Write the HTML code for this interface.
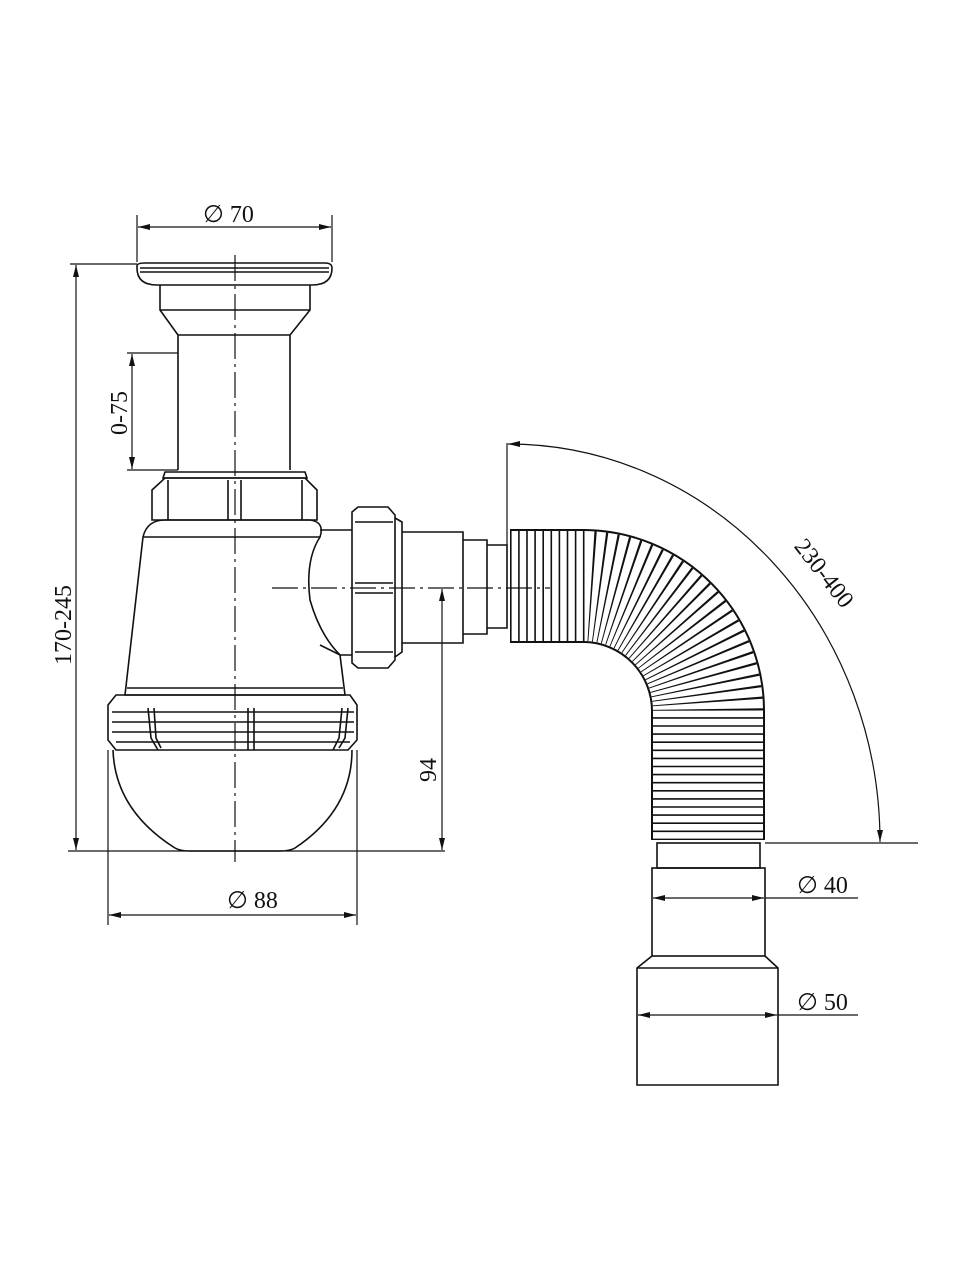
<!DOCTYPE html>
<html><head><meta charset="utf-8"><style>
html,body{margin:0;padding:0;background:#fff}
svg{display:block}
text{font-family:"Liberation Serif",serif;font-size:24px;fill:#111}
</style></head><body>
<svg width="960" height="1280" viewBox="0 0 960 1280" xmlns="http://www.w3.org/2000/svg">
<defs>
<marker id="a" viewBox="0 0 12 6" refX="12" refY="3" markerWidth="12" markerHeight="6" orient="auto-start-reverse" markerUnits="userSpaceOnUse"><path d="M0,0 L12,3 L0,6 Z" fill="#111"/></marker>
</defs>
<g fill="none" stroke="#111" stroke-width="1.6">
<path d="M137,266 Q137,263 145,263 L325,263 Q332,263 332,268 Q332,285 312,285 L157,285 Q137,285 137,268 Z"/>
<line x1="140" y1="268" x2="329" y2="268"/>
<line x1="140" y1="272" x2="329" y2="272"/>
<path d="M160,285 L160,310 L178,335 L178,470 M310,285 L310,310 L290,335 L290,470"/>
<line x1="160" y1="310" x2="310" y2="310"/>
<line x1="178" y1="335" x2="290" y2="335"/>
<path d="M163,478 L165,472 L305,472 L307,478 Z"/>
<path d="M152,490 L165,478 L305,478 L317,490 L317,520 L152,520 Z"/>
<line x1="168" y1="480" x2="168" y2="520"/><line x1="302" y1="480" x2="302" y2="520"/>
<line x1="228" y1="480" x2="228" y2="520"/><line x1="241" y1="480" x2="241" y2="520"/>
<path d="M143,537 Q147,520 165,520 L310,520 Q325,522 320,537 Q305,560 310,600 Q320,635 340,655 L345,695 L125,695 L143,537 Z"/>
<line x1="143" y1="537" x2="320" y2="537"/>
<line x1="127" y1="688" x2="343" y2="688"/>
<path d="M108,705 L116,695 L350,695 L357,705 L357,740 L348,750 L116,750 L108,740 Z"/>
<line x1="112" y1="712" x2="354" y2="712"/>
<line x1="112" y1="722" x2="354" y2="722"/>
<line x1="112" y1="732" x2="354" y2="732"/>
<line x1="116" y1="742" x2="350" y2="742"/>
<path d="M148,708 L151,738 L158,750 M154,708 L156,738 L161,748"/>
<path d="M248,708 L248,750 M254,708 L254,750"/>
<path d="M342,708 L339,738 L333,750 M348,708 L345,738 L339,748"/>
<path d="M113,750 Q115,810 175,848 Q180,851 190,851 L280,851 Q290,851 295,848 Q352,810 352,750"/>
<path d="M320,530 L352,530 M320,645 L340,655 L352,655"/>
<path d="M352,512 L358,507 L388,507 L395,515 L395,660 L388,668 L358,668 L352,663 Z"/>
<path d="M395,518 L402,522 L402,652 L395,657"/>
<line x1="355" y1="522" x2="393" y2="522"/><line x1="355" y1="652" x2="393" y2="652"/>
<line x1="355" y1="583" x2="393" y2="583"/><line x1="355" y1="593" x2="393" y2="593"/>
<path d="M402,532 L463,532 L463,643 L402,643"/>
<path d="M463,540 L487,540 L487,634 L463,634"/>
<path d="M487,545 L507,545 L507,628 L487,628"/>
<rect x="657" y="843" width="103" height="25"/>
<rect x="652" y="868" width="113" height="88"/>
<path d="M652,956 L637,968 L637,1085 L778,1085 L778,968 L765,956"/>
<line x1="637" y1="968" x2="778" y2="968"/>
</g>
<g fill="none">
<path d="M510,586 L585,586 A125,125 0 0 1 708,712 L708,840" stroke="#111" stroke-width="114"/>
<path d="M510,586 L585,586 A125,125 0 0 1 708,712 L708,840" stroke="#fff" stroke-width="110"/>
<path d="M510,586 L585,586 A125,125 0 0 1 708,712 L708,840" stroke="#111" stroke-width="110" stroke-dasharray="1.6 6.5"/>
</g>
<g stroke="#111" stroke-width="1.2" fill="none" stroke-dasharray="26 5 3 5">
<line x1="235" y1="255" x2="235" y2="862"/>
<line x1="272" y1="588" x2="550" y2="588"/>
</g>
<g stroke="#111" stroke-width="1.2" fill="none">
<line x1="137" y1="215" x2="137" y2="262"/><line x1="332" y1="215" x2="332" y2="262"/>
<line x1="138" y1="227" x2="331" y2="227" marker-start="url(#a)" marker-end="url(#a)"/>
<line x1="70" y1="264" x2="137" y2="264"/>
<line x1="68" y1="851" x2="445" y2="851"/>
<line x1="76" y1="265" x2="76" y2="850" marker-start="url(#a)" marker-end="url(#a)"/>
<line x1="127" y1="353" x2="178" y2="353"/><line x1="127" y1="470" x2="178" y2="470"/>
<line x1="132" y1="354" x2="132" y2="469" marker-start="url(#a)" marker-end="url(#a)"/>
<line x1="442" y1="589" x2="442" y2="850" marker-start="url(#a)" marker-end="url(#a)"/>
<line x1="108" y1="750" x2="108" y2="925"/><line x1="357" y1="750" x2="357" y2="925"/>
<line x1="109" y1="915" x2="356" y2="915" marker-start="url(#a)" marker-end="url(#a)"/>
<line x1="507" y1="443" x2="507" y2="545"/>
<line x1="765" y1="843" x2="918" y2="843"/>
<path d="M508,444 A372,398 0 0 1 880,842" marker-start="url(#a)" marker-end="url(#a)"/>
<line x1="653" y1="898" x2="764" y2="898" marker-start="url(#a)" marker-end="url(#a)"/>
<line x1="765" y1="898" x2="858" y2="898"/>
<line x1="638" y1="1015" x2="777" y2="1015" marker-start="url(#a)" marker-end="url(#a)"/>
<line x1="778" y1="1015" x2="858" y2="1015"/>
</g>
<text x="203" y="222">∅ 70</text>
<text x="227" y="908">∅ 88</text>
<text x="797" y="893">∅ 40</text>
<text x="797" y="1010">∅ 50</text>
<text transform="translate(71,625) rotate(-90)" text-anchor="middle">170-245</text>
<text transform="translate(127,413) rotate(-90)" text-anchor="middle">0-75</text>
<text transform="translate(436,770) rotate(-90)" text-anchor="middle">94</text>
<text transform="translate(818,578) rotate(52)" text-anchor="middle">230-400</text>
</svg>
</body></html>
